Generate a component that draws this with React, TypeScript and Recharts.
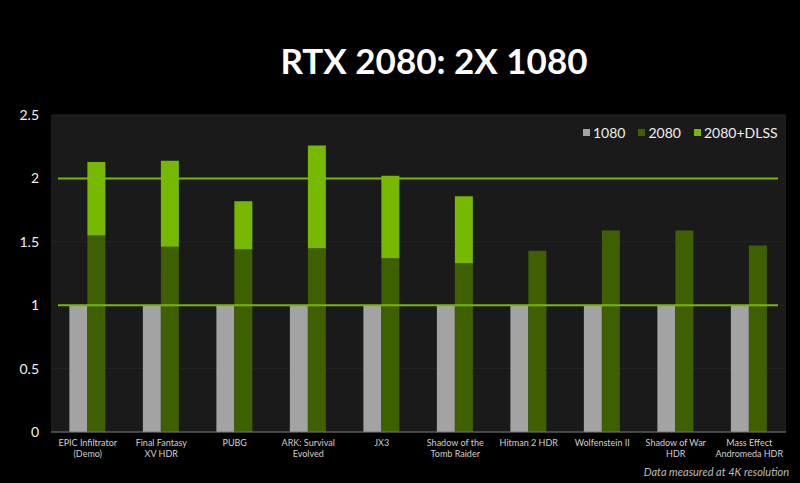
import { Bar, BarChart, CartesianGrid, ReferenceLine, XAxis, YAxis } from 'recharts';

const games = [
  'EPIC Infiltrator\n(Demo)',
  'Final Fantasy\nXV HDR',
  'PUBG',
  'ARK: Survival\nEvolved',
  'JX3',
  'Shadow of the\nTomb Raider',
  'Hitman 2 HDR',
  'Wolfenstein II',
  'Shadow of War\nHDR',
  'Mass Effect\nAndromeda HDR',
];
const gtx1080 = [1, 1, 1, 1, 1, 1, 1, 1, 1, 1];
const rtx2080 = [1.55, 1.46, 1.44, 1.45, 1.37, 1.33, 1.43, 1.59, 1.59, 1.47];
const rtx2080Dlss = [2.13, 2.14, 1.82, 2.26, 2.02, 1.86, null, null, null, null];
const yTicks = [0, 0.5, 1, 1.5, 2, 2.5];

const GRAY = '#a3a3a3';
const DARK_GREEN = '#3e6000';
const GREEN = '#76b900';
const FONT = 'Lato, "Open Sans", sans-serif';

const legendItems = [
  { name: '1080', color: GRAY },
  { name: '2080', color: DARK_GREEN },
  { name: '2080+DLSS', color: GREEN },
];

// DLSS bar sits on top of the 2080 bar, so stack only the extra part
const data = games.map((name, i) => ({
  name,
  gtx1080: gtx1080[i],
  rtx2080: rtx2080[i],
  dlssExtra: rtx2080Dlss[i] != null ? Math.round(((rtx2080Dlss[i] as number) - rtx2080[i]) * 100) / 100 : null,
}));

function GameTick({ x, y, payload }: any) {
  const lines = String(payload.value).split('\n');
  return (
    <text x={x} y={y} textAnchor="middle" fill="#d0d0d0" fontSize={9} fontFamily={FONT}>
      {lines.map((l, i) => (
        <tspan key={i} x={x} dy={i === 0 ? 6 : 11}>
          {l}
        </tspan>
      ))}
    </text>
  );
}

function ShortLine(props: any) {
  const { x1, x2, y1 } = props;
  return <line x1={x1 + 7} x2={x2 - 8} y1={y1} y2={y1} stroke={GREEN} strokeWidth={2} />;
}

export default function App() {
  return (
    <div style={{ position: 'fixed', top: 0, left: 0, width: 800, height: 483, background: '#000', overflow: 'hidden' }}>
      <div
        style={{
          position: 'absolute',
          top: 38,
          left: 0,
          width: 868,
          textAlign: 'center',
          color: '#fff',
          fontFamily: FONT,
          fontWeight: 700,
          fontSize: 35,
          lineHeight: '44px',
        }}
      >
        RTX 2080: 2X 1080
      </div>
      <div style={{ position: 'absolute', top: 0, left: 0 }}>
        <BarChart
          width={800}
          height={483}
          data={data}
          margin={{ top: 115, right: 14, left: 0, bottom: 0 }}
          barCategoryGap="25%"
          barGap={0}
        >
          <CartesianGrid vertical={false} fill="#1a1a1a" stroke="#242424" />
          <XAxis
            dataKey="name"
            interval={0}
            tick={<GameTick />}
            tickLine={false}
            height={51}
            axisLine={{ stroke: '#777' }}
          />
          <YAxis
            domain={[0, 2.5]}
            ticks={yTicks}
            width={51}
            tickSize={10}
            tickLine={false}
            axisLine={false}
            tick={{ fill: '#f0f0f0', fontSize: 14, fontFamily: FONT }}
          />
          <ReferenceLine y={1} shape={<ShortLine />} />
          <ReferenceLine y={2} shape={<ShortLine />} />
          <Bar dataKey="gtx1080" name="1080" fill={GRAY} stackId="b" isAnimationActive={false} />
          <Bar dataKey="rtx2080" name="2080" fill={DARK_GREEN} stackId="a" isAnimationActive={false} />
          <Bar dataKey="dlssExtra" name="2080+DLSS" fill={GREEN} stackId="a" isAnimationActive={false} />
        </BarChart>
      </div>
      <div
        style={{
          position: 'absolute',
          top: 124,
          left: 583,
          display: 'flex',
          gap: 13,
          fontFamily: FONT,
          fontSize: 14,
          lineHeight: '17px',
          color: '#f0f0f0',
        }}
      >
        {legendItems.map((it) => (
          <div key={it.name} style={{ display: 'flex', alignItems: 'center' }}>
            <span style={{ width: 7, height: 7, background: it.color, marginRight: 3, display: 'inline-block' }} />
            {it.name}
          </div>
        ))}
      </div>
      <div
        style={{
          position: 'absolute',
          right: 11,
          top: 465,
          color: '#bdbdbd',
          fontFamily: FONT,
          fontStyle: 'italic',
          fontSize: 11,
          lineHeight: '14px',
        }}
      >
        Data measured at 4K resolution
      </div>
    </div>
  );
}
